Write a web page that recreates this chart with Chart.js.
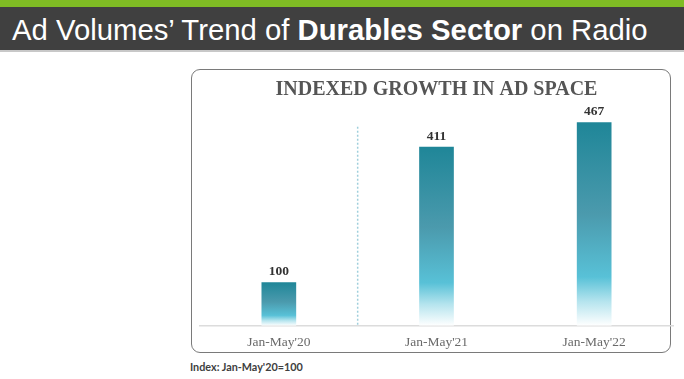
<!DOCTYPE html>
<html>
<head>
<meta charset="utf-8">
<script src="https://cdn.jsdelivr.net/npm/chart.js@4.4.1/dist/chart.umd.min.js"></script>
<style>
  html, body { margin: 0; padding: 0; background: #ffffff; }
  body { width: 684px; height: 379px; position: relative; overflow: hidden; }
  #green { position: absolute; left: 0; top: 0; width: 684px; height: 7px; background: #7fbc24; }
  #header { position: absolute; left: 0; top: 7px; width: 684px; height: 43px; background: #404040;
            border-bottom: 2px solid #c8c8c8; color: #ffffff;
            font-family: "Liberation Sans", Arial, sans-serif; font-size: 29.3px; line-height: 45px;
            white-space: nowrap; }
  #header span.t { position: absolute; left: 12px; top: 0; }
  #box { position: absolute; left: 191px; top: 69px; width: 478px; height: 282px;
         border: 1.5px solid #7a7a7a; border-radius: 9px; box-sizing: content-box; }
  #foot { position: absolute; left: 190px; top: 360px; font-family: "Lato", "Open Sans", sans-serif;
          font-weight: bold; font-size: 10.8px; color: #404040; white-space: nowrap; }
  #wrap { position: absolute; left: 0; top: 0; width: 684px; height: 379px; }
</style>
</head>
<body>
<div id="green"></div>
<div id="header"><span class="t">Ad Volumes’ Trend of <b>Durables Sector</b> on Radio</span></div>
<div id="box"></div>
<div id="foot">Index: Jan-May'20=100</div>
<div id="wrap"><canvas id="c" width="684" height="379"></canvas></div>
<script>
const categories = ["Jan-May'20", "Jan-May'21", "Jan-May'22"];
const indexValues = [100, 411, 467];
const chartTitle = "INDEXED GROWTH IN AD SPACE";

function barGradient(ctx) {
  const chart = ctx.chart;
  const ys = chart.scales && chart.scales.y;
  if (!chart.chartArea || !ys || ctx.parsed === undefined) return '#3a9aad';
  const top = ys.getPixelForValue(ctx.parsed.y);
  const bottom = ys.getPixelForValue(0);
  if (!isFinite(top) || !isFinite(bottom) || bottom - top < 1) return '#3a9aad';
  const g = chart.ctx.createLinearGradient(0, top, 0, bottom);
  g.addColorStop(0, '#1f8698');
  g.addColorStop(0.45, '#4b9aad');
  g.addColorStop(0.76, '#58c1d7');
  g.addColorStop(0.88, '#b5e4ee');
  g.addColorStop(1, '#ffffff');
  return g;
}

const valueLabels = {
  id: 'valueLabels',
  afterDatasetsDraw(chart) {
    const c = chart.ctx;
    const meta = chart.getDatasetMeta(0);
    c.save();
    c.font = 'bold 13.5px "Liberation Serif", "DejaVu Serif", serif';
    c.fillStyle = '#333333';
    c.textAlign = 'center';
    c.textBaseline = 'alphabetic';
    meta.data.forEach((el, i) => {
      c.fillText(String(chart.data.datasets[0].data[i]), el.x, el.y - 7);
    });
    c.restore();
  }
};

const divider = {
  id: 'divider',
  beforeDatasetsDraw(chart) {
    const xs = chart.scales.x, ys = chart.scales.y;
    const x = (xs.getPixelForValue(0) + xs.getPixelForValue(1)) / 2;
    const c = chart.ctx;
    c.save();
    c.strokeStyle = '#9fcfdc';
    c.lineWidth = 1.5;
    c.setLineDash([2, 2]);
    c.beginPath();
    c.moveTo(x, ys.getPixelForValue(457));
    c.lineTo(x, ys.getPixelForValue(0));
    c.stroke();
    c.restore();
  }
};

new Chart(document.getElementById('c'), {
  type: 'bar',
  data: {
    labels: categories,
    datasets: [{
      data: indexValues,
      backgroundColor: barGradient,
      borderWidth: 0,
      categoryPercentage: 1.0,
      barPercentage: 0.22
    }]
  },
  plugins: [divider, valueLabels],
  options: {
    responsive: false,
    animation: false,
    devicePixelRatio: 1,
    layout: { padding: { left: 200, right: 11, top: 0, bottom: 19 } },
    plugins: {
      legend: { display: false },
      tooltip: { enabled: false },
      title: {
        display: true,
        text: chartTitle,
        color: '#555555',
        font: { family: '"Liberation Serif", "DejaVu Serif", serif', size: 20, weight: 'bold' },
        padding: { top: 78, bottom: 6 }
      }
    },
    scales: {
      x: {
        grid: { display: false, drawTicks: false },
        border: { display: true, color: '#dcdcdc', width: 1.5 },
        ticks: { color: '#6a6a6a', padding: 9,
                 font: { family: '"Liberation Serif", "DejaVu Serif", serif', size: 13.5 } }
      },
      y: {
        display: false,
        min: 0,
        max: 500
      }
    }
  }
});
</script>
</body>
</html>
